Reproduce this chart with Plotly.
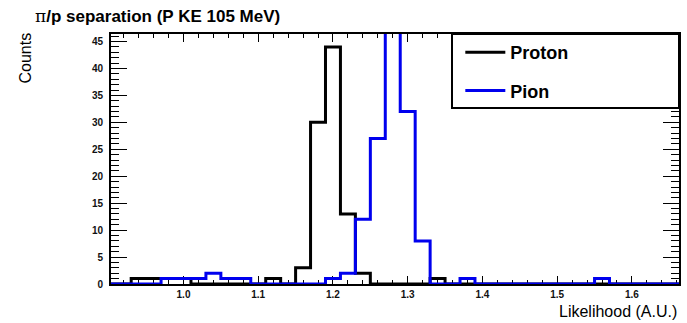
import plotly.graph_objects as go

# Bin edges (width 0.02) of the likelihood histograms
bin_edges = [0.89, 0.91, 0.93, 0.95, 0.97, 0.99, 1.01, 1.03, 1.05, 1.07,
             1.09, 1.11, 1.13, 1.15, 1.17, 1.19, 1.21, 1.23, 1.25, 1.27,
             1.29, 1.31, 1.33, 1.35, 1.37, 1.39, 1.41, 1.43, 1.45, 1.47,
             1.49, 1.51, 1.53, 1.55, 1.57, 1.59, 1.61, 1.63, 1.65, 1.67,
             1.69]

proton_counts = [0, 0, 1, 1, 1, 1, 0, 0, 0, 0,
                 0, 1, 0, 3, 30, 44, 13, 2, 0, 0,
                 0, 0, 1, 0, 0, 0, 0, 0, 0, 0,
                 0, 0, 0, 0, 0, 0, 0, 0, 0, 0]

pion_counts = [0, 0, 0, 0, 1, 1, 1, 2, 1, 1,
               0, 0, 0, 0, 0, 1, 2, 12, 27, 52,
               32, 8, 0, 0, 1, 0, 0, 0, 0, 0,
               0, 0, 0, 1, 0, 0, 0, 0, 0, 0]

series_names = ["Proton", "Pion"]
series_colors = ["#000000", "#0000ee"]
x_ticks = [1.0, 1.1, 1.2, 1.3, 1.4, 1.5, 1.6]
x_tick_labels = ["1.0", "1.1", "1.2", "1.3", "1.4", "1.5", "1.6"]
y_ticks = [0, 5, 10, 15, 20, 25, 30, 35, 40, 45]

fig = go.Figure()
for name, counts, color in zip(series_names, [proton_counts, pion_counts], series_colors):
    fig.add_trace(go.Scatter(
        x=bin_edges,
        y=counts + [counts[-1]],
        mode="lines",
        line=dict(shape="hv", color=color, width=3),
        name=name,
        legendgroup=name,
    ))

tickfont = dict(family="Liberation Sans", size=10, color="#111111", weight="bold")

PL, PT, PW, PH = 111, 34, 568, 250

fig.update_layout(
    width=687, height=323,
    margin=dict(l=PL, r=8, t=PT, b=39, autoexpand=False),
    paper_bgcolor="white", plot_bgcolor="white",
    showlegend=True,
    legend=dict(x=0.615, y=1.0, xanchor="left", yanchor="top",
                bgcolor="rgba(0,0,0,0)", borderwidth=0,
                font=dict(family="Liberation Sans", size=18, color="black", weight="bold"),
                tracegroupgap=12, itemwidth=40),
    xaxis=dict(range=[0.903, 1.663], tickvals=x_ticks, ticktext=x_tick_labels,
               ticks="inside", ticklen=8, tickwidth=1, tickcolor="black",
               showgrid=False, zeroline=False, showline=True, linecolor="black",
               linewidth=2, mirror="allticks", tickfont=tickfont,
               minor=dict(dtick=0.02, tick0=0.9, ticks="inside", ticklen=4,
                          tickcolor="black", tickwidth=1, showgrid=False),
               layer="below traces"),
    yaxis=dict(range=[0, 46.4], tickvals=y_ticks,
               ticks="inside", ticklen=16, tickwidth=1, tickcolor="black",
               showgrid=False, zeroline=False, showline=True, linecolor="black",
               linewidth=2, mirror="allticks", tickfont=tickfont,
               ticklabelstandoff=4,
               minor=dict(dtick=1, tick0=0, ticks="inside", ticklen=8,
                          tickcolor="black", tickwidth=1, showgrid=False),
               layer="below traces"),
    shapes=[dict(type="rect", xref="paper", yref="paper",
                 x0=(452 - 111) / PW, x1=1.0, y0=1 - (108 - 34) / PH, y1=1.0,
                 line=dict(color="black", width=2), fillcolor="white", layer="above")],
    annotations=[
        dict(text="<span style='font-family:DejaVu Serif;font-weight:normal'>π</span><b>/p separation (P KE 105 MeV)</b>",
             xref="paper", yref="paper", x=(33 - 111) / PW, y=1 + (34 - 16) / PH,
             xanchor="left", yanchor="middle", showarrow=False,
             font=dict(family="Liberation Sans", size=17, color="black")),
        dict(text="Counts", xref="paper", yref="paper",
             x=(25 - 111) / PW, y=1 + (34 - 31) / PH, xanchor="center", yanchor="top",
             textangle=-90, showarrow=False,
             font=dict(family="Liberation Sans", size=16, color="black")),
        dict(text="Likelihood (A.U.)", xref="paper", yref="paper",
             x=1.0, y=-(311 - 284) / PH, xanchor="right", yanchor="middle",
             showarrow=False,
             font=dict(family="Liberation Sans", size=16, color="black")),
    ],
)

fig.write_html("out.html",
               config={"displayModeBar": False},
               post_script="document.body.style.margin='0';document.body.style.overflow='hidden';")
